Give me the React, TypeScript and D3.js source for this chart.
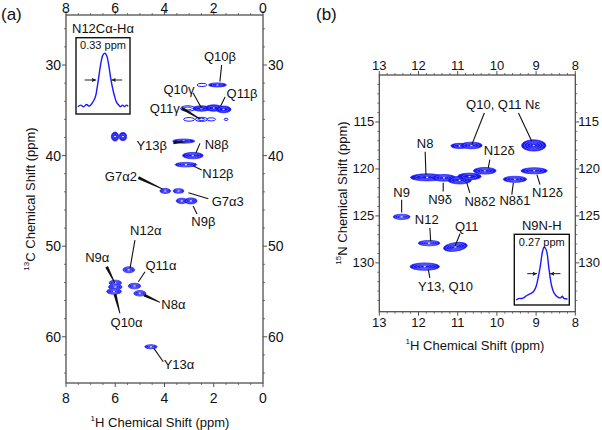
import React from 'react';
import * as d3 from 'd3';

const FONT = "'Liberation Sans', Arial, Helvetica, sans-serif";

// ---------- tick values ----------
const hTicksA = [8, 6, 4, 2, 0];
const cTicksA = [30, 40, 50, 60];
const hTicksB = [13, 12, 11, 10, 9, 8];
const nTicksB = [115, 120, 125, 130];

// ---------- peaks (ppm): h = 1H shift, v = 13C/15N shift, wh/wv = contour widths, lv = contour levels ----------
type Peak = { h: number; v: number; wh: number; wv: number; lv: number; rot?: number };

const carbonPeaks: Peak[] = [
  { h: 1.85, v: 32.2, wh: 0.73, wv: 0.45, lv: 3 },
  { h: 2.48, v: 32.2, wh: 0.4, wv: 0.35, lv: 1 },
  { h: 3.05, v: 34.8, wh: 0.6, wv: 0.6, lv: 2 },
  { h: 2.5, v: 34.8, wh: 0.7, wv: 0.6, lv: 3 },
  { h: 2.0, v: 34.75, wh: 0.7, wv: 0.7, lv: 3 },
  { h: 1.6, v: 34.9, wh: 0.6, wv: 0.75, lv: 3 },
  { h: 3.0, v: 36.0, wh: 0.45, wv: 0.4, lv: 1 },
  { h: 2.5, v: 36.0, wh: 0.5, wv: 0.45, lv: 2 },
  { h: 2.1, v: 36.0, wh: 0.35, wv: 0.35, lv: 1 },
  { h: 1.5, v: 36.0, wh: 0.15, wv: 0.25, lv: 1 },
  { h: 6.01, v: 37.9, wh: 0.3, wv: 1.0, lv: 3 },
  { h: 5.69, v: 37.9, wh: 0.3, wv: 0.9, lv: 3 },
  { h: 3.22, v: 38.4, wh: 0.9, wv: 0.45, lv: 3 },
  { h: 2.85, v: 40.0, wh: 0.84, wv: 0.7, lv: 4 },
  { h: 3.13, v: 41.0, wh: 0.88, wv: 0.5, lv: 4 },
  { h: 3.97, v: 43.9, wh: 0.43, wv: 0.55, lv: 4 },
  { h: 3.43, v: 43.9, wh: 0.43, wv: 0.5, lv: 4 },
  { h: 3.3, v: 45.0, wh: 0.45, wv: 0.6, lv: 4 },
  { h: 2.93, v: 45.0, wh: 0.5, wv: 0.66, lv: 4 },
  { h: 5.45, v: 52.6, wh: 0.47, wv: 0.66, lv: 5 },
  { h: 5.22, v: 54.4, wh: 0.5, wv: 0.62, lv: 5 },
  { h: 5.0, v: 55.2, wh: 0.49, wv: 0.6, lv: 5 },
  { h: 6.0, v: 54.05, wh: 0.5, wv: 0.6, lv: 5 },
  { h: 6.0, v: 54.5, wh: 0.55, wv: 0.6, lv: 5 },
  { h: 6.05, v: 55.0, wh: 0.6, wv: 0.6, lv: 5 },
  { h: 4.55, v: 61.1, wh: 0.5, wv: 0.45, lv: 4 },
];

const nitrogenPeaks: Peak[] = [
  { h: 10.95, v: 117.55, wh: 0.45, wv: 0.55, lv: 3 },
  { h: 10.65, v: 117.5, wh: 0.55, wv: 0.7, lv: 4 },
  { h: 9.06, v: 117.5, wh: 0.62, wv: 1.2, lv: 5 },
  { h: 10.31, v: 120.2, wh: 0.58, wv: 0.7, lv: 4 },
  { h: 9.54, v: 121.1, wh: 0.6, wv: 0.64, lv: 4 },
  { h: 9.05, v: 120.2, wh: 0.67, wv: 0.64, lv: 4 },
  { h: 11.78, v: 120.9, wh: 0.85, wv: 0.75, lv: 4 },
  { h: 11.35, v: 120.95, wh: 0.6, wv: 0.7, lv: 4 },
  { h: 10.95, v: 121.2, wh: 0.6, wv: 0.8, lv: 4 },
  { h: 10.7, v: 120.8, wh: 0.6, wv: 0.7, lv: 3 },
  { h: 12.43, v: 125.1, wh: 0.43, wv: 0.55, lv: 5 },
  { h: 11.73, v: 127.9, wh: 0.55, wv: 0.57, lv: 5 },
  { h: 11.06, v: 128.3, wh: 0.61, wv: 0.9, lv: 5, rot: -8 },
  { h: 11.84, v: 130.4, wh: 0.75, wv: 0.78, lv: 5 },
];

// ---------- assignment labels (ppm): text position + leader line ----------
type Label = { text: string; tx: number; ty: number; l: [number, number, number, number]; thick?: boolean };

const carbonLabels: Label[] = [
  { text: 'Q10β', tx: 1.75, ty: 29.08, l: [1.68, 30.0, 1.75, 31.84] },
  { text: 'Q10γ', tx: 3.41, ty: 32.68, l: [2.84, 33.09, 2.49, 34.78] },
  { text: 'Q11β', tx: 0.85, ty: 33.2, l: [1.54, 33.53, 1.72, 34.53] },
  { text: 'Q11γ', tx: 3.99, ty: 34.78, l: [3.3, 34.75, 2.56, 35.96], thick: true },
  { text: 'Y13β', tx: 4.52, ty: 38.91, l: [3.64, 38.58, 3.17, 38.47], thick: true },
  { text: 'N8β', tx: 1.88, ty: 38.76, l: [2.56, 38.65, 2.72, 39.68] },
  { text: 'N12β', tx: 1.83, ty: 42.03, l: [2.49, 41.59, 2.85, 41.12] },
  { text: 'G7α2', tx: 5.77, ty: 42.26, l: [5.06, 42.44, 4.05, 43.72], thick: true },
  { text: 'G7α3', tx: 1.43, ty: 45.02, l: [2.22, 44.76, 3.03, 44.1] },
  { text: 'N9β', tx: 2.42, ty: 47.3, l: [2.84, 45.57, 2.68, 46.45] },
  { text: 'N12α', tx: 4.76, ty: 48.3, l: [5.2, 49.32, 5.4, 52.45] },
  { text: 'Q11α', tx: 4.14, ty: 52.16, l: [4.79, 52.82, 5.06, 53.93] },
  { text: 'N8α', tx: 3.64, ty: 56.42, l: [4.82, 55.4, 4.18, 56.2], thick: true },
  { text: 'N9α', tx: 6.73, ty: 51.28, l: [6.35, 52.27, 6.01, 54.1], thick: true },
  { text: 'Q10α', tx: 5.54, ty: 58.41, l: [6.01, 55.29, 5.81, 57.42], thick: true },
  { text: 'Y13α', tx: 3.41, ty: 63.05, l: [4.43, 61.28, 4.05, 62.76] },
];

const nitrogenLabels: Label[] = [
  { text: 'Q10, Q11 Nε', tx: 9.84, ty: 113.09, l: [10.32, 114.04, 10.64, 117.41] },
  { text: '', tx: 0, ty: 0, l: [9.45, 114.04, 9.11, 117.06] },
  { text: 'N8', tx: 11.83, ty: 117.34, l: [11.83, 118.16, 11.81, 120.61] },
  { text: 'N12δ', tx: 9.94, ty: 118.02, l: [10.18, 119.01, 10.22, 119.89] },
  { text: 'N9δ', tx: 11.45, ty: 123.27, l: [11.37, 121.46, 11.37, 122.41] },
  { text: 'N8δ2', tx: 10.43, ty: 123.45, l: [10.77, 121.46, 10.69, 122.55] },
  { text: 'N8δ1', tx: 9.54, ty: 123.37, l: [9.58, 121.46, 9.62, 122.73] },
  { text: 'N12δ', tx: 8.71, ty: 122.49, l: [8.98, 120.6, 8.9, 121.67] },
  { text: 'N9', tx: 12.43, ty: 122.55, l: [12.43, 123.27, 12.43, 124.65] },
  { text: 'N12', tx: 11.79, ty: 125.39, l: [11.71, 126.28, 11.69, 127.7] },
  { text: 'Q11', tx: 10.77, ty: 126.1, l: [10.94, 126.91, 11.07, 128.23] },
  { text: 'Y13, Q10', tx: 11.31, ty: 132.49, l: [11.75, 130.71, 11.71, 131.6] },
];

// ---------- inset 1D slices: offset from peak (ppm) vs normalised intensity ----------
const insetAOffset = [-0.71, -0.63, -0.56, -0.48, -0.41, -0.33, -0.25, -0.2, -0.15, -0.1, -0.05, 0, 0.05, 0.1, 0.15, 0.2, 0.25, 0.3, 0.36, 0.41, 0.46, 0.51, 0.56, 0.61];
const insetAInt = [0, 0.03, 0, 0.04, 0.01, 0.07, 0.18, 0.37, 0.61, 0.84, 0.97, 1.0, 0.95, 0.78, 0.54, 0.35, 0.2, 0.09, 0.03, 0, 0.03, 0, 0.03, 0.01];
const insetBOffset = [-0.75, -0.66, -0.58, -0.45, -0.36, -0.28, -0.22, -0.18, -0.11, -0.04, 0, 0.06, 0.13, 0.2, 0.27, 0.36, 0.44, 0.49, 0.53, 0.63];
const insetBInt = [0, 0.03, 0.03, 0.09, 0.12, 0.16, 0.24, 0.35, 0.6, 0.92, 1.0, 0.95, 0.6, 0.28, 0.13, 0.06, 0.04, 0.07, 0.03, 0.02];

type Scale = d3.ScaleLinear<number, number>;

function PeakGlyph({ p, x, y }: { p: Peak; x: Scale; y: Scale }) {
  const cx = x(p.h);
  const cy = y(p.v);
  const rx = Math.abs(x(p.h + p.wh / 2) - cx);
  const ry = Math.abs(y(p.v + p.wv / 2) - cy);
  const tr = p.rot ? `rotate(${p.rot},${cx},${cy})` : undefined;
  const parts: React.ReactNode[] = [];
  if (p.lv <= 2) {
    for (let i = 0; i < p.lv; i++) {
      const k = 1 - i * 0.45;
      parts.push(<ellipse key={i} cx={cx} cy={cy} rx={rx * k} ry={ry * k} fill="none" stroke="#1a1aff" strokeWidth={1} />);
    }
  } else {
    parts.push(<ellipse key="o" cx={cx} cy={cy} rx={rx} ry={ry} fill="#1414f0" stroke="#2a2aff" strokeWidth={0.8} />);
    for (let i = 1; i < p.lv - 1; i++) {
      const k = 1 - i / (p.lv - 0.5);
      parts.push(<ellipse key={i} cx={cx} cy={cy} rx={rx * k} ry={ry * k} fill="none" stroke="#7d7dff" strokeWidth={0.6} />);
    }
    parts.push(<ellipse key="c" cx={cx} cy={cy} rx={1.2} ry={0.8} fill="#d8d8e8" />);
  }
  return <g transform={tr}>{parts}</g>;
}

function Leader({ lb, x, y, fs }: { lb: Label; x: Scale; y: Scale; fs: number }) {
  const [h1, v1, h2, v2] = lb.l;
  const x1 = x(h1), y1 = y(v1), x2 = x(h2), y2 = y(v2);
  let line: React.ReactNode;
  if (lb.thick) {
    const dx = x2 - x1, dy = y2 - y1;
    const len = Math.hypot(dx, dy) || 1;
    const nx = -dy / len, ny = dx / len;
    const w1 = 3.0, w2 = 0.9;
    const pts = [
      [x1 + (nx * w1) / 2, y1 + (ny * w1) / 2],
      [x2 + (nx * w2) / 2, y2 + (ny * w2) / 2],
      [x2 - (nx * w2) / 2, y2 - (ny * w2) / 2],
      [x1 - (nx * w1) / 2, y1 - (ny * w1) / 2],
    ];
    line = <polygon points={pts.map((p) => p.join(',')).join(' ')} fill="#111" />;
  } else {
    line = <line x1={x1} y1={y1} x2={x2} y2={y2} stroke="#111" strokeWidth={1.1} />;
  }
  return (
    <g>
      {line}
      {lb.text && (
        <text x={x(lb.tx)} y={y(lb.ty)} fontSize={fs} textAnchor="middle" dominantBaseline="central" fill="#111">
          {lb.text}
        </text>
      )}
    </g>
  );
}

function Frame({
  x, y, xTicks, yTicks, xMinor, yMinor, fs, topOff, botOff, leftOff, rightOff,
}: {
  x: Scale; y: Scale; xTicks: number[]; yTicks: number[]; xMinor: number[]; yMinor: number[];
  fs: number; topOff: number; botOff: number; leftOff: number; rightOff: number;
}) {
  const [xl, xr] = x.range();
  const [yt, yb] = y.range();
  const col = '#505050';
  return (
    <g>
      {xMinor.map((v, i) => (
        <g key={'xm' + i} stroke={col} strokeWidth={0.8}>
          <line x1={x(v)} x2={x(v)} y1={yt} y2={yt - 2} />
          <line x1={x(v)} x2={x(v)} y1={yb} y2={yb + 2} />
        </g>
      ))}
      {yMinor.map((v, i) => (
        <g key={'ym' + i} stroke={col} strokeWidth={0.8}>
          <line x1={xl} x2={xl - 2} y1={y(v)} y2={y(v)} />
          <line x1={xr} x2={xr + 2} y1={y(v)} y2={y(v)} />
        </g>
      ))}
      {xTicks.map((v, i) => (
        <g key={'xt' + i}>
          <line x1={x(v)} x2={x(v)} y1={yt} y2={yt - 4} stroke={col} strokeWidth={1} />
          <line x1={x(v)} x2={x(v)} y1={yb} y2={yb + 4} stroke={col} strokeWidth={1} />
          <text x={x(v)} y={yt - topOff} fontSize={fs} textAnchor="middle" dominantBaseline="central" fill="#111">{v}</text>
          <text x={x(v)} y={yb + botOff} fontSize={fs} textAnchor="middle" dominantBaseline="central" fill="#111">{v}</text>
        </g>
      ))}
      {yTicks.map((v, i) => (
        <g key={'yt' + i}>
          <line x1={xl} x2={xl - 4} y1={y(v)} y2={y(v)} stroke={col} strokeWidth={1} />
          <line x1={xr} x2={xr + 4} y1={y(v)} y2={y(v)} stroke={col} strokeWidth={1} />
          <text x={xl - leftOff} y={y(v)} fontSize={fs} textAnchor="end" dominantBaseline="central" fill="#111">{v}</text>
          <text x={xr + rightOff} y={y(v)} fontSize={fs} textAnchor="start" dominantBaseline="central" fill="#111">{v}</text>
        </g>
      ))}
      <rect x={xl} y={yt} width={xr - xl} height={yb - yt} fill="none" stroke={col} strokeWidth={1.3} />
    </g>
  );
}

function Inset({
  box, offs, ints, title, width, tips,
}: {
  box: { l: number; r: number; t: number; b: number; base: number; top: number };
  offs: number[]; ints: number[]; title: string; width: string; tips: [number, number, number, number, number];
}) {
  const sx = d3.scaleLinear().domain([offs[0] - 0.02, offs[offs.length - 1] + 0.02]).range([box.l + 1, box.r - 1]);
  const sy = d3.scaleLinear().domain([0, 1]).range([box.base, box.top]);
  const pts = offs.map((o, i) => [o, ints[i]] as [number, number]);
  const path = d3.line<[number, number]>().x((d) => sx(d[0])).y((d) => sy(d[1])).curve(d3.curveCatmullRom.alpha(0.5))(pts) || '';
  const [tl, hl, hr, tr, ay] = tips;
  const ayy = sy(ay);
  const head = (xTip: number, dir: number) => {
    const s = 4;
    return `${xTip},${ayy} ${xTip - dir * s},${ayy - 2} ${xTip - dir * s},${ayy + 2}`;
  };
  return (
    <g>
      <text x={(box.l + box.r) / 2} y={box.t - 9} fontSize={13} textAnchor="middle" dominantBaseline="central" fill="#111">{title}</text>
      <rect x={box.l} y={box.t} width={box.r - box.l} height={box.b - box.t} fill="white" stroke="#111" strokeWidth={1.4} />
      <path d={path} fill="none" stroke="#1a1aff" strokeWidth={1.4} />
      <text x={(box.l + box.r) / 2} y={box.t + 7.5} fontSize={11} textAnchor="middle" dominantBaseline="central" fill="#111">{width}</text>
      <line x1={sx(tl)} x2={sx(hl)} y1={ayy} y2={ayy} stroke="#222" strokeWidth={1} />
      <polygon points={head(sx(hl), 1)} fill="#222" />
      <line x1={sx(tr)} x2={sx(hr)} y1={ayy} y2={ayy} stroke="#222" strokeWidth={1} />
      <polygon points={head(sx(hr), -1)} fill="#222" />
    </g>
  );
}

export default function App() {
  const xA = d3.scaleLinear().domain([8, 0]).range([66, 263]);
  const yA = d3.scaleLinear().domain([24.48, 65.1]).range([15, 383]);
  const xB = d3.scaleLinear().domain([13, 8]).range([379.3, 575.3]);
  const yB = d3.scaleLinear().domain([110, 135.2]).range([75, 311.7]);

  const xMinorA = d3.range(0, 8.01, 0.5).filter((v) => !hTicksA.includes(v));
  const yMinorA = d3.range(26, 65, 2).filter((v) => !cTicksA.includes(v));
  const xMinorB = d3.range(8, 13.001, 0.2).map((v) => +v.toFixed(1)).filter((v) => !hTicksB.includes(v));
  const yMinorB = d3.range(111, 135, 1).filter((v) => !nTicksB.includes(v));

  return (
    <svg width={602} height={430} style={{ position: 'absolute', left: 0, top: 0, background: 'white' }} fontFamily={FONT}>
      <rect x={0} y={0} width={602} height={430} fill="white" />
      {/* ---- panel (a) ---- */}
      <text x={1} y={14} fontSize={17} dominantBaseline="central" fill="#111">(a)</text>
      <g>
        {carbonPeaks.map((p, i) => <PeakGlyph key={i} p={p} x={xA} y={yA} />)}
        {carbonLabels.map((lb, i) => <Leader key={i} lb={lb} x={xA} y={yA} fs={13} />)}
        <Frame x={xA} y={yA} xTicks={hTicksA} yTicks={cTicksA} xMinor={xMinorA} yMinor={yMinorA} fs={14} topOff={7} botOff={14.5} leftOff={5} rightOff={5} />
        <Inset
          box={{ l: 76, r: 130, t: 37.7, b: 114, base: 106.7, top: 53.3 }}
          offs={insetAOffset} ints={insetAInt} title="N12Cα-Hα" width="0.33 ppm"
          tips={[-0.53, -0.23, 0.17, 0.45, 0.5]}
        />
        <text x={160} y={421.5} fontSize={13} textAnchor="middle" dominantBaseline="central" fill="#111">
          <tspan fontSize={8} dy={-4}>1</tspan><tspan dy={4}>H Chemical Shift (ppm)</tspan>
        </text>
        <text transform={`translate(30,199) rotate(-90)`} fontSize={13} textAnchor="middle" dominantBaseline="central" fill="#111">
          <tspan fontSize={8} dy={-4}>13</tspan><tspan dy={4}>C Chemical Shift (ppm)</tspan>
        </text>
      </g>
      {/* ---- panel (b) ---- */}
      <text x={316} y={14} fontSize={17} dominantBaseline="central" fill="#111">(b)</text>
      <g>
        {nitrogenPeaks.map((p, i) => <PeakGlyph key={i} p={p} x={xB} y={yB} />)}
        {nitrogenLabels.map((lb, i) => <Leader key={i} lb={lb} x={xB} y={yB} fs={13} />)}
        <Frame x={xB} y={yB} xTicks={hTicksB} yTicks={nTicksB} xMinor={xMinorB} yMinor={yMinorB} fs={13} topOff={10} botOff={11} leftOff={5} rightOff={3} />
        <Inset
          box={{ l: 514.3, r: 569.3, t: 234.3, b: 305, base: 300, top: 247.3 }}
          offs={insetBOffset} ints={insetBInt} title="N9N-H" width="0.27 ppm"
          tips={[-0.45, -0.19, 0.16, 0.44, 0.5]}
        />
        <text x={475} y={345} fontSize={13} textAnchor="middle" dominantBaseline="central" fill="#111">
          <tspan fontSize={8} dy={-4}>1</tspan><tspan dy={4}>H Chemical Shift (ppm)</tspan>
        </text>
        <text transform={`translate(342,193) rotate(-90)`} fontSize={13} textAnchor="middle" dominantBaseline="central" fill="#111">
          <tspan fontSize={8} dy={-4}>15</tspan><tspan dy={4}>N Chemical Shift (ppm)</tspan>
        </text>
      </g>
    </svg>
  );
}
